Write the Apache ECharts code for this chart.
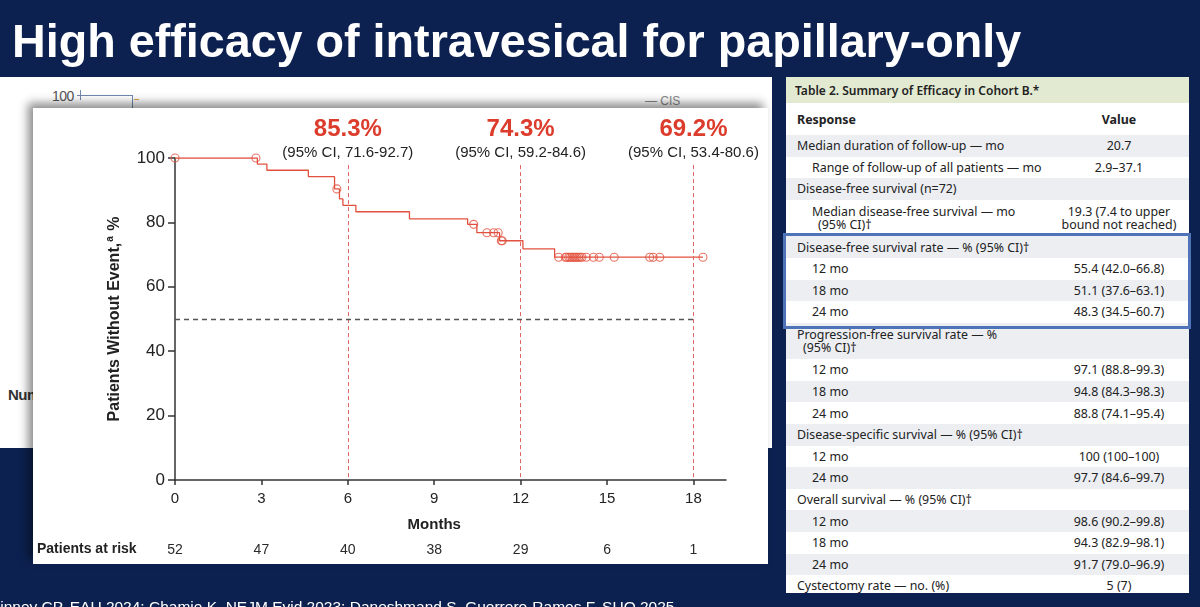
<!DOCTYPE html>
<html><head><meta charset="utf-8">
<script src="https://cdn.jsdelivr.net/npm/echarts@6/dist/echarts.min.js"></script>
<style>
html,body{margin:0;padding:0;}
body{width:1200px;height:607px;overflow:hidden;background:#0c2150;position:relative;font-family:"Liberation Sans",Arial,sans-serif;}
#title{position:absolute;left:12px;top:18px;color:#fff;font-weight:bold;font-size:46.7px;line-height:46px;white-space:nowrap;z-index:5;}
#back{position:absolute;left:0;top:77px;width:772px;height:371px;background:#fff;z-index:0;}
#front{position:absolute;left:33px;top:108px;width:735px;height:456px;background:#fff;box-shadow:-5px -5px 9px rgba(0,0,0,0.45);z-index:1;}
#chart{position:absolute;left:0;top:0;width:1200px;height:607px;z-index:2;}
.bk{position:absolute;white-space:nowrap;}
#foot{position:absolute;left:-11px;top:599px;color:#fff;font-size:15.5px;line-height:16px;white-space:nowrap;z-index:5;}
#tbl{position:absolute;left:786px;top:77px;width:403px;height:516px;background:#fff;overflow:hidden;font-family:"Noto Sans","Open Sans",sans-serif;font-size:12.4px;color:#222;z-index:3;}
#tbl .hdr{position:absolute;left:0;top:0;width:403px;height:26px;background:#e3ead2;display:flex;align-items:center;}
#tbl .row{position:absolute;left:0;width:403px;display:flex;align-items:center;}
#tbl .lab{width:263px;box-sizing:border-box;line-height:13px;white-space:nowrap;}
#tbl .val{width:140px;text-align:center;line-height:13px;white-space:nowrap;}
#blue{position:absolute;left:783px;top:233px;width:408px;height:96px;border:3px solid #4f73b9;box-sizing:border-box;z-index:4;}
</style>
</head><body>
<div id="title">High efficacy of intravesical for papillary-only</div>
<div id="back">
  <div class="bk" style="left:52px;top:11px;font-size:14px;color:#555;letter-spacing:-0.5px;">100</div>
  <div class="bk" style="left:77px;top:18px;width:55px;height:1px;background:#7089b0;"></div>
  <div class="bk" style="left:80px;top:13px;width:1px;height:10px;background:#7089b0;"></div>
  <div class="bk" style="left:132px;top:18px;width:1px;height:14px;background:#7089b0;"></div>
  <div class="bk" style="left:134px;top:22px;width:5px;height:1px;background:#e0a050;"></div>
  <div class="bk" style="left:645px;top:17px;font-size:12px;color:#888;">— CIS</div>
  <div class="bk" style="left:8px;top:309px;font-size:15px;font-weight:bold;color:#333;letter-spacing:-0.5px;">Number at risk</div>
</div>
<div id="front"></div>
<div id="chart"></div>
<div id="tbl"></div>
<div id="blue"></div>
<div id="foot">Dinney CP, EAU 2024; Chamie K, NEJM Evid 2023; Daneshmand S, Guerrero-Ramos F, SUO 2025</div>
<script>
// ---- chart data ----
const xTicks = [0, 3, 6, 9, 12, 15, 18];
const riskCounts = [52, 47, 40, 38, 29, 6, 1];
const kmTimes = [0, 2.86, 3.19, 4.63, 5.54, 5.71, 5.83, 6.28, 8.14, 10.16, 10.48, 11.27, 12.08, 13.18, 18.33];
const kmSurv  = [100, 98.1, 96.2, 94.2, 90.4, 87.3, 85.3, 83.3, 81.1, 79.4, 76.8, 74.3, 71.8, 69.2, 69.2];
const censorTimes = [0, 2.81, 5.62, 10.37, 10.83, 11.06, 11.22, 11.33, 11.36,
  13.32, 13.55, 13.6, 13.67, 13.72, 13.78, 13.84, 13.9, 13.95, 14.01, 14.07, 14.13, 14.28, 14.53, 14.73, 15.25, 16.48, 16.6, 16.83, 18.33];
const censorSurv = [100, 100, 90.4, 79.4, 76.8, 76.8, 76.8, 74.3, 74.3,
  69.2, 69.2, 69.2, 69.2, 69.2, 69.2, 69.2, 69.2, 69.2, 69.2, 69.2, 69.2, 69.2, 69.2, 69.2, 69.2, 69.2, 69.2, 69.2, 69.2];
const landmarkMonths = [6, 12, 18];
const landmarkRates = ['85.3%', '74.3%', '69.2%'];
const landmarkCI = ['(95% CI, 71.6-92.7)', '(95% CI, 59.2-84.6)', '(95% CI, 53.4-80.6)'];
const medianLevel = 50;

// ---- table data ----
const tableTitle = 'Table 2. Summary of Efficacy in Cohort B.*';
const tableHead = ['Response', 'Value'];
const tableLabels = [
  'Median duration of follow-up — mo',
  'Range of follow-up of all patients — mo',
  'Disease-free survival (n=72)',
  'Median disease-free survival — mo\n(95% CI)†',
  'Disease-free survival rate — % (95% CI)†',
  '12 mo', '18 mo', '24 mo',
  'Progression-free survival rate — %\n(95% CI)†',
  '12 mo', '18 mo', '24 mo',
  'Disease-specific survival — % (95% CI)†',
  '12 mo', '24 mo',
  'Overall survival — % (95% CI)†',
  '12 mo', '18 mo', '24 mo',
  'Cystectomy rate — no. (%)'
];
const tableValues = [
  '20.7', '2.9–37.1', '', '19.3 (7.4 to upper\nbound not reached)', '',
  '55.4 (42.0–66.8)', '51.1 (37.6–63.1)', '48.3 (34.5–60.7)', '',
  '97.1 (88.8–99.3)', '94.8 (84.3–98.3)', '88.8 (74.1–95.4)', '',
  '100 (100–100)', '97.7 (84.6–99.7)', '',
  '98.6 (90.2–99.8)', '94.3 (82.9–98.1)', '91.7 (79.0–96.9)', '5 (7)'
];
const tableLevels = [0,1,0,1,0,1,1,1,0,1,1,1,0,1,1,0,1,1,1,0];

// build table
(function(){
  const tbl = document.getElementById('tbl');
  let h = '<div class="hdr"><span style="padding-left:9px;font-weight:600;font-size:12px;">' + tableTitle + '</span></div>';
  h += '<div class="row" style="top:26px;height:32px;background:#fff;"><div class="lab" style="padding-left:11px;font-weight:bold;">' + tableHead[0] +
       '</div><div class="val" style="font-weight:bold;">' + tableHead[1] + '</div></div>';
  let y = 58;
  tableLabels.forEach((lab, i) => {
    const lines = lab.split('\n');
    const rh = lines.length > 1 ? 36.5 : 21.6;
    const bg = i % 2 === 0 ? '#eceef2' : '#ffffff';
    const pad = tableLevels[i] ? 26 : 11;
    const labHtml = lines.map((l, k) => k === 0 ? l : '<br><span style="padding-left:6px;">' + l + '</span>').join('');
    const valHtml = tableValues[i].split('\n').join('<br>');
    h += '<div class="row" style="top:' + y.toFixed(1) + 'px;height:' + rh + 'px;background:' + bg + ';">' +
         '<div class="lab" style="padding-left:' + pad + 'px;">' + labHtml + '</div>' +
         '<div class="val">' + valHtml + '</div></div>';
    y += rh;
  });
  tbl.innerHTML = h;
})();

const red = '#e2513f';
const redText = '#dc3c2c';
const chart = echarts.init(document.getElementById('chart'), null, {renderer: 'canvas'});
const option = {
  backgroundColor: 'transparent',
  animation: false,
  grid: {left: 175, top: 158, width: 551, height: 322, containLabel: false, outerBoundsMode: 'none'},
  xAxis: [{
    type: 'value', min: 0, max: 19.13, interval: 3,
    axisLine: {show: true, lineStyle: {color: '#333', width: 1.5}},
    axisTick: {show: true, length: 5, lineStyle: {color: '#333', width: 1.5}, customValues: xTicks},
    axisLabel: {fontSize: 15, color: '#222', margin: 11, fontFamily: 'Liberation Sans', customValues: xTicks},
    splitLine: {show: false}
  }, {
    type: 'value', min: 0, max: 19.13, interval: 3, position: 'bottom', offset: 55,
    axisLine: {show: false}, axisTick: {show: false},
    axisLabel: {fontSize: 14, color: '#2a2a2a', margin: 8, fontFamily: 'Liberation Sans', customValues: xTicks,
      formatter: v => { const k = xTicks.indexOf(v); return k >= 0 ? String(riskCounts[k]) : ''; }},
    splitLine: {show: false}
  }],
  yAxis: {
    type: 'value', min: 0, max: 100, interval: 20,
    axisLine: {show: true, lineStyle: {color: '#333', width: 1.5}},
    axisTick: {show: true, length: 7, lineStyle: {color: '#333', width: 1.5}},
    axisLabel: {fontSize: 17, color: '#222', margin: 10, fontFamily: 'Liberation Sans'},
    splitLine: {show: false},
    name: 'Patients Without Event,{sup|a} %',
    nameLocation: 'middle', nameGap: 50, nameRotate: 90,
    nameTextStyle: {fontSize: 16, fontWeight: 'bold', color: '#222', fontFamily: 'Liberation Sans', lineHeight: 20,
      rich: {sup: {fontSize: 10, fontWeight: 'bold', color: '#222', fontFamily: 'Liberation Sans', verticalAlign: 'top', lineHeight: 12, padding: [0, 1, 0, 1]}}}
  },
  series: [{
    type: 'line', step: 'end', showSymbol: false, silent: true,
    data: kmTimes.map((t, i) => [t, kmSurv[i]]),
    lineStyle: {color: red, width: 1.3},
    itemStyle: {color: red},
    z: 3,
    markLine: {
      silent: true, symbol: 'none', label: {show: false},
      data: landmarkMonths.map(m => [{coord: [m, 97.8], lineStyle: {color: '#e06565', width: 1, type: [4, 3]}}, {coord: [m, 0]}])
        .concat([[{coord: [0, medianLevel], lineStyle: {color: '#555', width: 1.3, type: [5, 4]}}, {coord: [18, medianLevel]}]])
    }
  }, {
    type: 'scatter', silent: true, z: 4,
    data: censorTimes.map((t, i) => [t, censorSurv[i]]),
    symbol: 'circle', symbolSize: 8,
    itemStyle: {color: 'rgba(0,0,0,0)', borderColor: red, borderWidth: 1.1}
  }]
};
chart.setOption(option);

const gr = [];
landmarkMonths.forEach((m, i) => {
  const px = chart.convertToPixel({xAxisIndex: 0}, m);
  gr.push({type: 'text', x: px, y: 129, z: 10, style: {text: landmarkRates[i], fill: redText, fontSize: 24, fontWeight: 'bold', fontFamily: 'Liberation Sans', align: 'center', verticalAlign: 'middle'}});
  gr.push({type: 'text', x: px, y: 153, z: 10, style: {text: landmarkCI[i], fill: '#222', fontSize: 15, fontFamily: 'Liberation Sans', align: 'center', verticalAlign: 'middle'}});
});
const mx = chart.convertToPixel({xAxisIndex: 0}, 9);
gr.push({type: 'text', x: mx, y: 525, z: 10, style: {text: 'Months', fill: '#222', fontSize: 15, fontWeight: 'bold', fontFamily: 'Liberation Sans', align: 'center', verticalAlign: 'middle'}});
gr.push({type: 'text', x: 37, y: 549, z: 10, style: {text: 'Patients at risk', fill: '#222', fontSize: 14, fontWeight: 'bold', fontFamily: 'Liberation Sans', align: 'left', verticalAlign: 'middle'}});
chart.setOption({graphic: gr});
</script>
</body></html>
